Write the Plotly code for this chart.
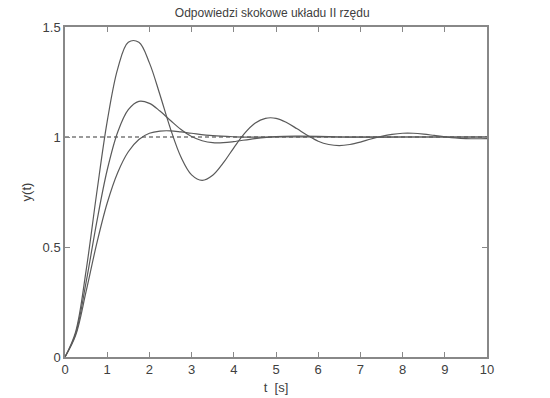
import plotly.graph_objects as go

# --- data ---
t_a = [0, 0.25, 0.5, 0.75, 1.0, 1.25, 1.5, 1.75, 2.0, 2.25, 2.5, 2.75, 3.0, 3.25, 3.5,
       3.75, 4.0, 4.25, 4.5, 4.75, 5.0, 5.25, 5.5, 5.75, 6.0, 6.25, 6.5, 6.75, 7.0, 7.25,
       7.5, 7.75, 8.0, 8.25, 8.5, 8.75, 9.0, 9.25, 9.5, 9.75, 10.0]
y_a = [0, 0.113, 0.393, 0.743, 1.071, 1.311, 1.431, 1.431, 1.337, 1.192, 1.037, 0.908,
       0.828, 0.803, 0.826, 0.882, 0.951, 1.015, 1.062, 1.085, 1.085, 1.066, 1.037, 1.007,
       0.981, 0.966, 0.961, 0.966, 0.977, 0.991, 1.003, 1.012, 1.017, 1.017, 1.013, 1.007,
       1.001, 0.996, 0.993, 0.992, 0.993]

t_b = [0, 0.25, 0.5, 0.75, 1.0, 1.25, 1.5, 1.75, 2.0, 2.25, 2.5, 2.75, 3.0, 3.25, 3.5,
       3.75, 4.0, 4.5, 5.0, 5.5, 6.0, 6.5, 7.0, 8.0, 9.0, 10.0]
y_b = [0, 0.104, 0.340, 0.611, 0.850, 1.023, 1.124, 1.162, 1.153, 1.118, 1.075, 1.034,
       1.002, 0.983, 0.974, 0.974, 0.979, 0.993, 1.002, 1.004, 1.003, 1.000, 0.999, 1.0,
       1.0, 1.0]

t_c = [0, 0.25, 0.5, 0.75, 1.0, 1.25, 1.5, 1.75, 2.0, 2.25, 2.5, 2.75, 3.0, 3.5, 4.0,
       4.5, 5.0, 6.0, 7.0, 8.0, 9.0, 10.0]
y_c = [0, 0.097, 0.298, 0.514, 0.700, 0.839, 0.933, 0.989, 1.017, 1.027, 1.028, 1.023,
       1.017, 1.006, 1.001, 0.999, 1.0, 1.0, 1.0, 1.0, 1.0, 1.0]

ref_t = [0, 10]
ref_y = [1, 1]

x_ticks = [0, 1, 2, 3, 4, 5, 6, 7, 8, 9, 10]
y_ticks = [0, 0.5, 1, 1.5]
y_tick_labels = ["0", "0.5", "1", "1.5"]

title_text = "Odpowiedzi skokowe układu II rzędu"
x_label = "t  [s]"
y_label = "y(t)"

FONT = "Liberation Sans, Arial"
TXT = "#404040"

fig = go.Figure()
fig.add_trace(go.Scatter(x=ref_t, y=ref_y, mode="lines",
                         line=dict(color="#9a9a9a", width=2, dash="4px,3px"),
                         showlegend=False))
for tt, yy in [(t_a, y_a), (t_b, y_b), (t_c, y_c)]:
    fig.add_trace(go.Scatter(x=tt, y=yy, mode="lines", line_shape="spline",
                             line=dict(color="#5a5a5a", width=1.2), showlegend=False))

axis_common = dict(showgrid=False, zeroline=False, showline=True, linecolor="#888888",
                   linewidth=1.5, mirror="ticks", ticks="inside", ticklen=5,
                   tickcolor="#888888", automargin=False,
                   tickfont=dict(family=FONT, size=13, color=TXT))
fig.update_xaxes(range=[0, 10], tickvals=x_ticks, **axis_common,
                 title=dict(text=x_label, font=dict(family=FONT, size=13, color=TXT),
                            standoff=7))
fig.update_yaxes(range=[0, 1.5], tickvals=y_ticks, ticktext=y_tick_labels, **axis_common,
                 title=dict(text=y_label, font=dict(family=FONT, size=13, color=TXT),
                            standoff=8))
fig.update_layout(
    width=550, height=398,
    margin=dict(l=65, r=63, t=27, b=41, autoexpand=False),
    paper_bgcolor="white", plot_bgcolor="white",
    title=dict(text=title_text, x=0.495, xanchor="center", y=0.969, yanchor="middle",
               font=dict(family=FONT, size=12, color=TXT)),
)
fig.write_html("out.html", config={"displayModeBar": False},
               post_script="document.body.style.margin='0';")
